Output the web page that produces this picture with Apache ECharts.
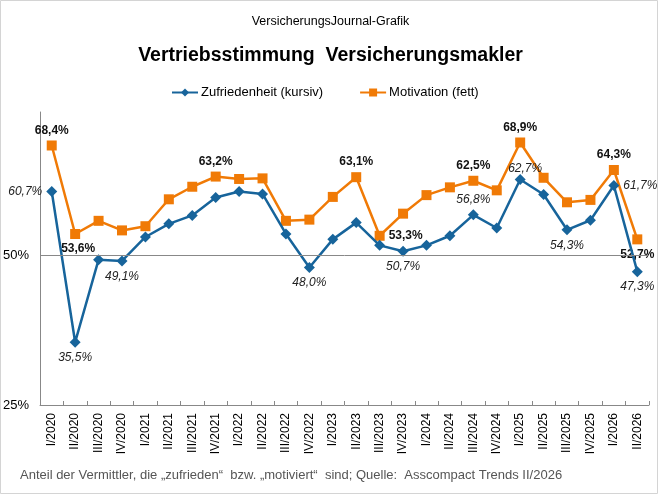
<!DOCTYPE html>
<html>
<head>
<meta charset="utf-8">
<script src="https://cdn.jsdelivr.net/npm/echarts@6/dist/echarts.min.js"></script>
<style>
html,body{margin:0;padding:0;background:#fff;}
#c{width:661px;height:496px;}
</style>
</head>
<body>
<div id="c"></div>
<script>
var categories = ["I/2020","II/2020","III/2020","IV/2020","I/2021","II/2021","III/2021","IV/2021","I/2022","II/2022","III/2022","IV/2022","I/2023","II/2023","III/2023","IV/2023","I/2024","II/2024","III/2024","IV/2024","I/2025","II/2025","III/2025","IV/2025","I/2026","II/2026"];
var zufriedenheit = [60.7,35.5,49.3,49.1,53.1,55.3,56.7,59.7,60.7,60.3,53.6,48.0,52.7,55.5,51.7,50.7,51.7,53.3,56.8,54.6,62.7,60.2,54.3,55.9,61.7,47.3];
var motivation = [68.4,53.6,55.8,54.2,54.9,59.4,61.5,63.2,62.8,62.9,55.8,56.0,59.8,63.1,53.3,57.0,60.1,61.4,62.5,60.9,68.9,63.0,58.9,59.3,64.3,52.7];
var yTickLabels = [25, 50];
var seriesNames = ["Zufriedenheit (kursiv)", "Motivation (fett)"];

// label placement (style only)
var blueLabelPos = {0:'left',1:'bottom',3:'bottom',11:'bottom',15:'bottom',18:'top',20:'top',22:'bottom',24:'right',25:'bottom'};
var orangeLabelPos = {0:'top',1:'bottom',7:'top',13:'top',14:'right',18:'top',20:'top',24:'top',25:'bottom'};
var blueLabelOffset = {20:[5,5]};
var orangeLabelOffset = {1:[3,0]};

var FONT = "'Liberation Sans', Arial, sans-serif";
function fmt(v){ return v.toFixed(1).replace('.', ',') + '%'; }

function buildData(vals, posMap, offMap){
  return vals.map(function(v, i){
    var p = posMap[i];
    var d = {value: v};
    if (p) {
      d.label = {show: true, position: p, distance: 4,
        offset: offMap[i] || [0,0]};
    } else {
      d.label = {show: false};
    }
    return d;
  });
}

var chart = echarts.init(document.getElementById('c'), null, {renderer:'canvas'});
chart.setOption({
  animation: false,
  backgroundColor: '#fff',
  textStyle: {fontFamily: FONT},
  title: [
    {text: 'VersicherungsJournal-Grafik', left: 'center', top: 10,
     textStyle: {fontFamily: FONT, fontSize: 12.5, fontWeight: 'normal', color: '#000'}},
    {text: 'Vertriebsstimmung  Versicherungsmakler', left: 'center', top: 41,
     textStyle: {fontFamily: FONT, fontSize: 19.5, fontWeight: 'bold', color: '#000'}},
    {text: 'Anteil der Vermittler, die \u201Ezufrieden\u201C  bzw. \u201Emotiviert\u201C  sind; Quelle:  Asscompact Trends II/2026', left: 15, top: 464,
     textStyle: {fontFamily: FONT, fontSize: 13, fontWeight: 'normal', color: '#555'}}
  ],
  legend: {
    top: 81, left: 166, itemGap: 36, itemWidth: 26, itemHeight: 10,
    textStyle: {fontFamily: FONT, fontSize: 13, color: '#000', padding: [0,0,0,-2]},
    data: seriesNames
  },
  grid: {left: 40, right: 12, top: 112, bottom: 91, containLabel: false},
  xAxis: {
    type: 'category', data: categories, boundaryGap: true,
    axisLine: {lineStyle: {color: '#888', width: 1}},
    axisTick: {show: true, inside: true, length: 4, alignWithLabel: false, lineStyle: {color: '#888'}},
    axisLabel: {rotate: 90, fontFamily: FONT, fontSize: 12, color: '#000', margin: 8, interval: 0},
    splitLine: {show: false}
  },
  yAxis: {
    type: 'value', min: 25, max: 74, interval: 25,
    axisLine: {show: true, lineStyle: {color: '#888', width: 1}},
    axisTick: {show: false},
    splitLine: {show: false},
    axisLabel: {fontFamily: FONT, fontSize: 13, color: '#000', margin: 11,
      formatter: function(v){ return yTickLabels.indexOf(v) >= 0 ? v + '%' : ''; }}
  },
  series: [
    {
      name: seriesNames[0], type: 'line',
      data: buildData(zufriedenheit, blueLabelPos, blueLabelOffset),
      symbol: 'diamond', symbolSize: 11, z: 3,
      lineStyle: {color: '#17649b', width: 2.5},
      itemStyle: {color: '#17649b'},
      label: {fontFamily: FONT, fontSize: 12, fontStyle: 'italic', color: '#222',
        formatter: function(p){ return fmt(p.value); }},
      markLine: {
        silent: true, symbol: 'none', label: {show: false},
        lineStyle: {color: '#888', width: 1, type: 'solid'},
        data: [{yAxis: 50}]
      }
    },
    {
      name: seriesNames[1], type: 'line',
      data: buildData(motivation, orangeLabelPos, orangeLabelOffset),
      symbol: 'rect', symbolSize: 10, z: 2,
      lineStyle: {color: '#f07a06', width: 2.5},
      itemStyle: {color: '#f07a06'},
      label: {fontFamily: FONT, fontSize: 12, fontWeight: 'bold', color: '#111',
        formatter: function(p){ return fmt(p.value); }}
    }
  ],
  graphic: [
    {type: 'rect', shape: {x: 0.5, y: 0.5, width: 657, height: 493},
     style: {fill: 'none', stroke: '#d4d4d4', lineWidth: 1}, silent: true, z: -1}
  ]
});
</script>
</body>
</html>
